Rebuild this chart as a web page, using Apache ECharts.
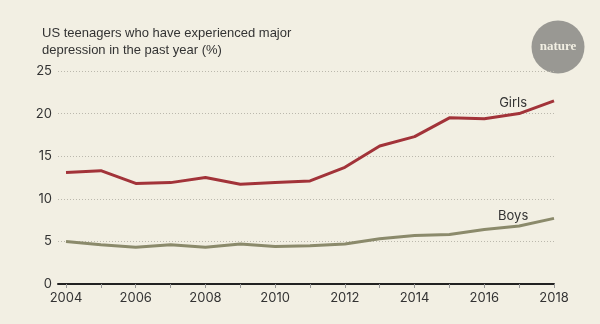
<!DOCTYPE html>
<html><head><meta charset="utf-8">
<script src="https://cdn.jsdelivr.net/npm/echarts@6/dist/echarts.min.js"></script>
<style>html,body{margin:0;padding:0;background:#f2efe3}#c{width:600px;height:324px}</style>
</head><body><div id="c"></div>
<script>
const years = [2004,2005,2006,2007,2008,2009,2010,2011,2012,2013,2014,2015,2016,2017,2018];
const girls = [13.1,13.3,11.8,11.9,12.5,11.7,11.9,12.1,13.7,16.2,17.3,19.5,19.4,20.0,21.5];
const boys  = [5.0,4.6,4.3,4.6,4.3,4.7,4.4,4.5,4.7,5.3,5.7,5.8,6.4,6.8,7.7];
const xTickLabels = [2004,2006,2008,2010,2012,2014,2016,2018];
const yTicks = [0,5,10,15,20,25];
const title = ['US teenagers who have experienced major','depression in the past year (%)'];

const chart = echarts.init(document.getElementById('c'));
const F = 'Inter, "Noto Sans", sans-serif';
function mk(vals, name, labelIdx, offset) {
  return vals.map((v,i)=> {
    const d = {value:[years[i], v]};
    if (i === labelIdx) d.label = {show:true, formatter:name, position:'top', offset:offset,
      color:'#333', fontSize:13, fontFamily:F};
    return d;
  });
}
chart.setOption({
  backgroundColor:'#f2efe3',
  animation:false,
  grid:{left:58, right:46, top:71, bottom:40},
  graphic:[
    {type:'text', left:42, top:25, style:{text:title.join('\n'), fontSize:13, lineHeight:17, fill:'#333', font:'13px '+F}},
    {type:'circle', shape:{cx:558, cy:47, r:26.5}, style:{fill:'#999893'}},
    {type:'text', x:558, y:47, style:{text:'nature', fill:'#f2efe3', font:'bold 13px "Liberation Serif", "DejaVu Serif", serif', align:'center', verticalAlign:'middle'}}
  ],
  xAxis:{type:'value', min:2003.77, max:2018,
    axisLine:{show:true, onZero:false, lineStyle:{color:'#222', width:2}},
    axisTick:{show:true, customValues:years, length:4, lineStyle:{color:'#999', width:1}},
    axisLabel:{customValues:xTickLabels, color:'#333', fontSize:13, fontFamily:F, margin:8, formatter:v=>String(v)},
    splitLine:{show:false}},
  yAxis:{type:'value', min:0, max:25, interval:5,
    axisLine:{show:false}, axisTick:{show:false},
    axisLabel:{color:'#333', fontSize:13, fontFamily:F, margin:6},
    splitLine:{lineStyle:{color:'#bbb8ad', type:[1,2], width:1}}},
  series:[
    {type:'line', name:'Girls', data:mk(girls,'Girls',13,[-6,1]), symbol:'circle', symbolSize:0, showSymbol:true,
      lineStyle:{color:'#a23339', width:3}, itemStyle:{color:'#a23339'}, z:3},
    {type:'line', name:'Boys', data:mk(boys,'Boys',13,[-6,2]), symbol:'circle', symbolSize:0, showSymbol:true,
      lineStyle:{color:'#8b8a6b', width:3}, itemStyle:{color:'#8b8a6b'}, z:3}
  ]
});
</script></body></html>
